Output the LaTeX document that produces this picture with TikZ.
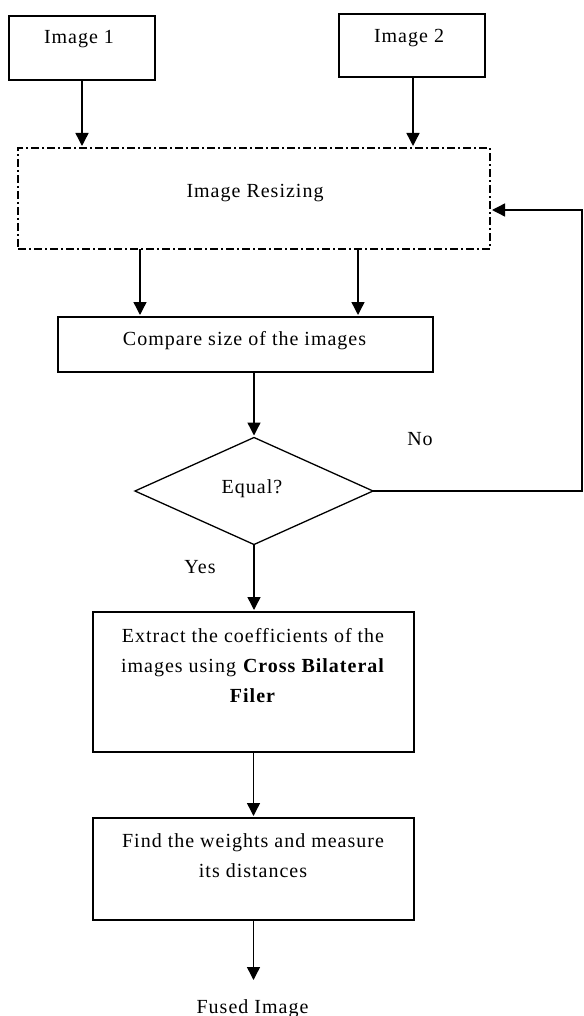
\documentclass[tikz,border=0pt]{standalone}
\usepackage{fontspec}
\setmainfont{Liberation Serif}[LetterSpace=5]
\usetikzlibrary{arrows.meta,shapes.geometric}
\begin{document}
\begin{tikzpicture}[x=1pt,y=-1pt,
  box/.style={draw, line width=1.3pt, inner sep=0pt, outer sep=0pt},
  txt/.style={inner sep=0pt, anchor=base, font=\fontsize{20}{30}\selectfont},
  arr/.style={-{Triangle[width=13pt,length=13pt]}, line width=1.4pt, shorten >=2pt},
  dashdot/.style={dash pattern=on 8pt off 3pt on 2pt off 3pt, line width=1.1pt}]
\useasboundingbox (0,0) rectangle (583,1016);
% boxes
\node[box, minimum width=146pt, minimum height=64pt] (img1) at (82,48) {};
\node[txt] (t1) at (79,44) {Image 1};
\node[box, minimum width=146pt, minimum height=63pt] (img2) at (412,45.5) {};
\node[txt] (t2) at (409,43) {Image 2};
\node[box, dashdot, minimum width=472pt, minimum height=101pt] (resize) at (254,198.5) {};
\node[txt] (tr) at (255,198) {Image Resizing};
\node[box, minimum width=375pt, minimum height=55pt] (cmp) at (245.5,344.5) {};
\node[txt] (tc) at (244.5,345) {Compare size of the images};
\node[box, diamond, minimum width=238pt, minimum height=107pt] (dec) at (254,491) {};
\node[txt] (te) at (252,493) {Equal?};
\node[txt] (no) at (420,445) {No};
\node[txt] (yes) at (200,573) {Yes};
\node[box, minimum width=321pt, minimum height=140pt] (ext) at (253.5,682) {};
\node[txt, anchor=north, align=center] (tx) at (253,628) {Extract the coefficients of the\\images using \textbf{Cross Bilateral}\\\textbf{Filer}};
\node[box, minimum width=321pt, minimum height=102pt] (fw) at (253.5,869) {};
\node[txt, anchor=north, align=center] (tf) at (253,833) {Find the weights and measure\\its distances};
\node[txt] (fused) at (252.5,1013) {Fused Image};
% connectors
\draw[arr] (img1.south) -- (img1.south |- resize.north);
\draw[arr] ([xshift=1pt]img2.south) coordinate (b2) -- (b2 |- resize.north);
\draw[arr] ([xshift=-114pt]resize.south) coordinate (r1) -- (r1 |- cmp.north);
\draw[arr] ([xshift=104pt]resize.south) coordinate (r2) -- (r2 |- cmp.north);
\draw[arr] (dec.north |- cmp.south) -- (dec.north);
\draw[arr] (dec.south) -- (dec.south |- ext.north);
\draw[arr] (ext.south) -- (fw.north);
\draw[arr] (fw.south) -- ++(0,62);
\coordinate (corner) at (582,210);
\draw[arr] (dec.east) -| (corner) -- (corner -| resize.east);
\end{tikzpicture}
\end{document}
